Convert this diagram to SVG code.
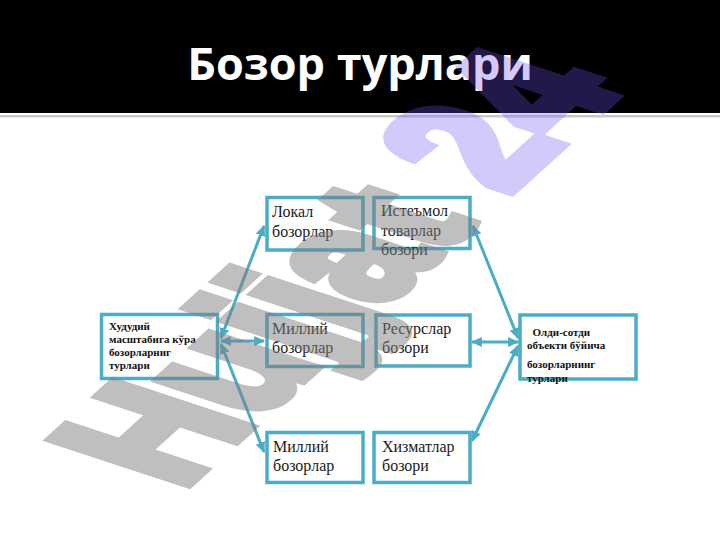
<svg xmlns="http://www.w3.org/2000/svg" width="720" height="540" viewBox="0 0 720 540">
<defs>
<style>
.box{fill:#ffffff;stroke:#4bacc6;stroke-width:3.5}
.lbl{font-family:"Liberation Serif","DejaVu Serif",serif;font-size:16px;fill:#1a1a1a}
.sm{font-family:"Liberation Serif","DejaVu Serif",serif;font-size:11px;font-weight:bold;fill:#111111}
.con{stroke:#4bacc6;stroke-width:3;fill:none;marker-start:url(#ah);marker-end:url(#ah)}
.title{font-family:"Open Sans","Liberation Sans",sans-serif;font-size:45px;font-weight:bold;fill:#ffffff}
.wm{font-family:"Liberation Sans","DejaVu Sans",sans-serif;font-size:100px;font-weight:bold;stroke-width:7;stroke-linejoin:miter}
</style>
<marker id="ah" viewBox="0 0 10 10" refX="9" refY="5" markerWidth="11" markerHeight="11" markerUnits="userSpaceOnUse" orient="auto-start-reverse">
<path d="M0,0.5 L10,5 L0,9.5 z" fill="#4bacc6"/>
</marker>
</defs>
<rect x="0" y="0" width="720" height="540" fill="#ffffff"/>
<rect x="0" y="0" width="720" height="113" fill="#000000"/>
<rect x="0" y="115" width="720" height="2.5" fill="#c8c8c8"/>
<text class="title" x="360" y="80" text-anchor="middle">Бозор турлари</text>

<g id="connectors">
<line class="con" x1="221" y1="338" x2="264" y2="226"/>
<line class="con" x1="221" y1="341" x2="264" y2="341"/>
<line class="con" x1="221" y1="344" x2="264" y2="452"/>
<line class="con" x1="518" y1="338" x2="473" y2="226"/>
<line class="con" x1="518" y1="342" x2="472" y2="342"/>
<line class="con" x1="518" y1="346" x2="472" y2="441"/>
</g>

<g id="node-hududiy">
<rect class="box" x="101.5" y="314.5" width="116" height="64"/>
<text class="sm" x="109" y="330">Худудий</text>
<text class="sm" x="109" y="343">масштабига кўра</text>
<text class="sm" x="109" y="356">бозорларниг</text>
<text class="sm" x="109" y="369">турлари</text>
</g>
<g id="node-lokal">
<rect class="box" x="267" y="197.5" width="96" height="52.5"/>
<text class="lbl" x="272" y="217">Локал</text>
<text class="lbl" x="272" y="237">бозорлар</text>
</g>
<g id="node-isteymol">
<rect class="box" x="374" y="197.5" width="96" height="51"/>
<text class="lbl" x="381" y="216">Истеъмол</text>
<text class="lbl" x="381" y="236">товарлар</text>
<text class="lbl" x="381" y="255">бозори</text>
</g>
<g id="node-milliy1">
<rect class="box" x="267" y="314.5" width="96" height="52"/>
<text class="lbl" x="272" y="334">Миллий</text>
<text class="lbl" x="272" y="353">бозорлар</text>
</g>
<g id="node-resurs">
<rect class="box" x="376" y="315" width="94" height="51"/>
<text class="lbl" x="382" y="334">Ресурслар</text>
<text class="lbl" x="382" y="353">бозори</text>
</g>
<g id="node-oldisotdi">
<rect class="box" x="520" y="315" width="116" height="64"/>
<text class="sm" x="527" y="336" xml:space="preserve">  Олди-сотди</text>
<text class="sm" x="527" y="349">объекти бўйича</text>
<text class="sm" x="527" y="368">бозорларнинг</text>
<text class="sm" x="527" y="382">турлари</text>
</g>
<g id="node-milliy2">
<rect class="box" x="267" y="432.5" width="96" height="50"/>
<text class="lbl" x="273" y="452">Миллий</text>
<text class="lbl" x="273" y="471">бозорлар</text>
</g>
<g id="node-xizmat">
<rect class="box" x="374" y="432.5" width="96" height="50"/>
<text class="lbl" x="382" y="452">Хизматлар</text>
<text class="lbl" x="382" y="471">бозори</text>
</g>

<g opacity="0.5">
<text class="wm" fill="#808080" stroke="#808080" transform="matrix(1.066 -0.965 1.95 0.64 180 490)">Hujjat</text>
</g>
<g opacity="0.3">
<text class="wm" fill="#7050f0" stroke="#7050f0" transform="matrix(1.066 -0.965 1.95 0.64 180 490)" x="306">24</text>
</g>
</svg>
